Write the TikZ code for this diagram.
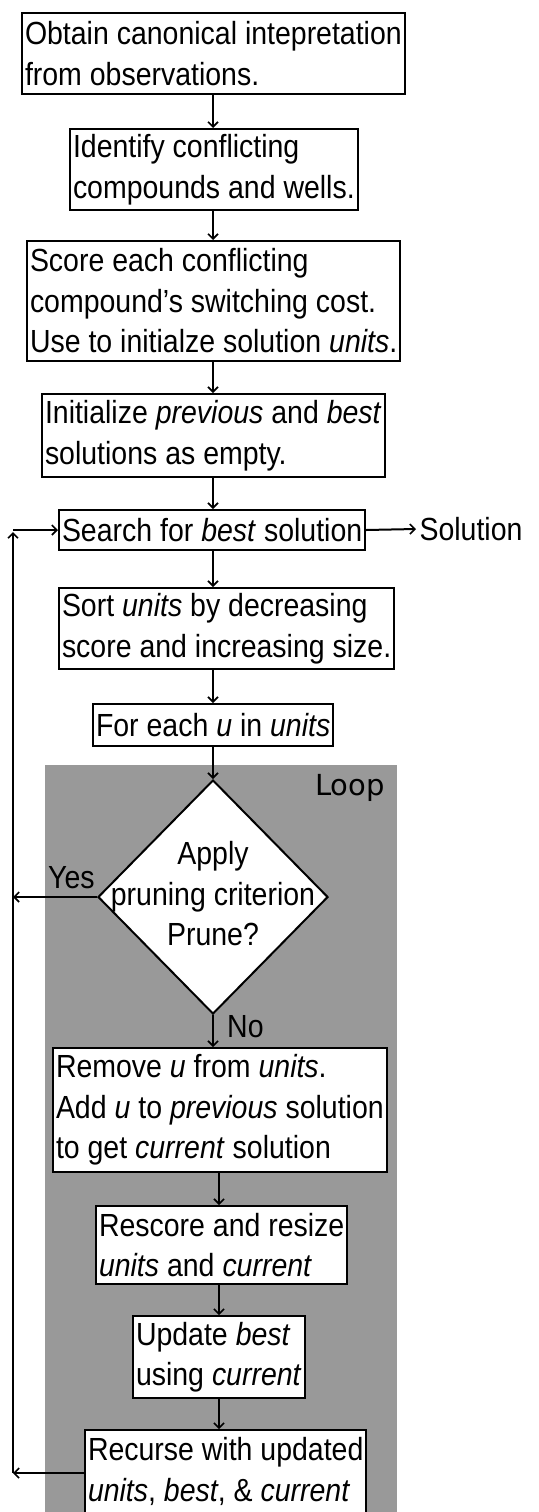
\documentclass[tikz,border=0pt]{standalone}
\usepackage{fontspec}
\setmainfont[FakeStretch=0.89]{Liberation Sans}
\newfontfamily\loopfont{DejaVu Sans}
\usetikzlibrary{arrows.meta,shapes.geometric}
\definecolor{loopgray}{HTML}{999999}
\tikzset{
  txt/.style={font=\fontsize{32}{40.5}\selectfont},
  stepbox/.style={txt, draw, line width=2pt, fill=white, inner xsep=3pt, inner ysep=0pt, align=left, anchor=north west},
  arr/.style={line width=2pt, -{Straight Barb[length=5pt,width=10pt,line width=1.6pt]}},
}
\begin{document}
\begin{tikzpicture}[x=1pt,y=-1pt]
\useasboundingbox (0,0) rectangle (538,1512);
\fill[loopgray] (45,765) rectangle (397,1512);
\coordinate (ax) at (213,0);
\coordinate (bx) at (219,0);
\node[stepbox, minimum height=81pt] (b1) at (21,12) {Obtain canonical intepretation\\from observations.};
\node[stepbox, minimum height=81pt] (b2) at (69,128) {Identify conflicting\\compounds and wells.};
\node[stepbox, minimum height=120pt] (b3) at (26,240) {Score each conflicting\\compound’s switching cost.\\Use to initialze solution \textit{units}.};
\node[stepbox, minimum height=83pt] (b4) at (41,393) {Initialize \textit{previous} and \textit{best}\\solutions as empty.};
\node[stepbox, minimum height=40pt] (search) at (58,509) {Search for \textit{best} solution};
\node[txt, anchor=west] (sol) at (416,529) {Solution};
\node[stepbox, minimum height=81pt] (sort) at (58,587) {Sort \textit{units} by decreasing\\score and increasing size.};
\node[stepbox, minimum height=42pt] (each) at (92,703) {For each \textit{u} in \textit{units}};
\node[font=\loopfont\fontsize{29}{34}\selectfont, anchor=base west, inner sep=0pt] (loop) at (315,795) {Loop};
\node[diamond, draw, fill=white, line width=2pt, minimum width=230pt, minimum height=234pt, inner sep=0pt] (dia) at (213,897) {};
\node[txt, align=center] (diatext) at (213,894) {Apply\\pruning criterion\\Prune?};
\node[stepbox, minimum height=124pt] (rem) at (52,1047) {Remove \textit{u} from \textit{units}.\\Add \textit{u} to \textit{previous} solution\\to get \textit{current} solution};
\node[stepbox, minimum height=78pt] (resc) at (95,1205) {Rescore and resize\\\textit{units} and \textit{current}};
\node[stepbox, minimum height=82pt] (upd) at (132,1315) {Update \textit{best}\\using \textit{current}};
\node[stepbox, minimum height=83pt] (rec) at (84,1429) {Recurse with updated\\\textit{units}, \textit{best}, \& \textit{current}};
\node[txt, anchor=base west, inner sep=0pt] (yes) at (48,888) {Yes};
\node[txt, anchor=base west, inner sep=0pt] (no) at (227,1037) {No};
\coordinate (lb) at (13,1473);
\coordinate (lt) at (13,532);
\coordinate (ly) at (13,897);
\draw[arr] (b1.south -| ax) -- (b2.north -| ax);
\draw[arr] (b2.south -| ax) -- (b3.north -| ax);
\draw[arr] (b3.south -| ax) -- (b4.north -| ax);
\draw[arr] (b4.south -| ax) -- (search.north -| ax);
\draw[arr] (search.east) -- (sol.west);
\draw[arr] (search.south -| ax) -- (sort.north -| ax);
\draw[arr] (sort.south -| ax) -- (each.north -| ax);
\draw[arr] (each.south -| ax) -- (dia.north);
\draw[arr] (dia.south) -- (rem.north -| dia.south);
\draw[arr] (rem.south -| bx) -- (resc.north -| bx);
\draw[arr] (resc.south -| bx) -- (upd.north -| bx);
\draw[arr] (upd.south -| bx) -- (rec.north -| bx);
\draw[arr] (dia.west) -- (ly);
\draw[arr] (rec.west |- lb) -- (lb);
\draw[arr] (lb) -- (lt);
\draw[arr] (lt |- search.west) -- (search.west);
\end{tikzpicture}
\end{document}
